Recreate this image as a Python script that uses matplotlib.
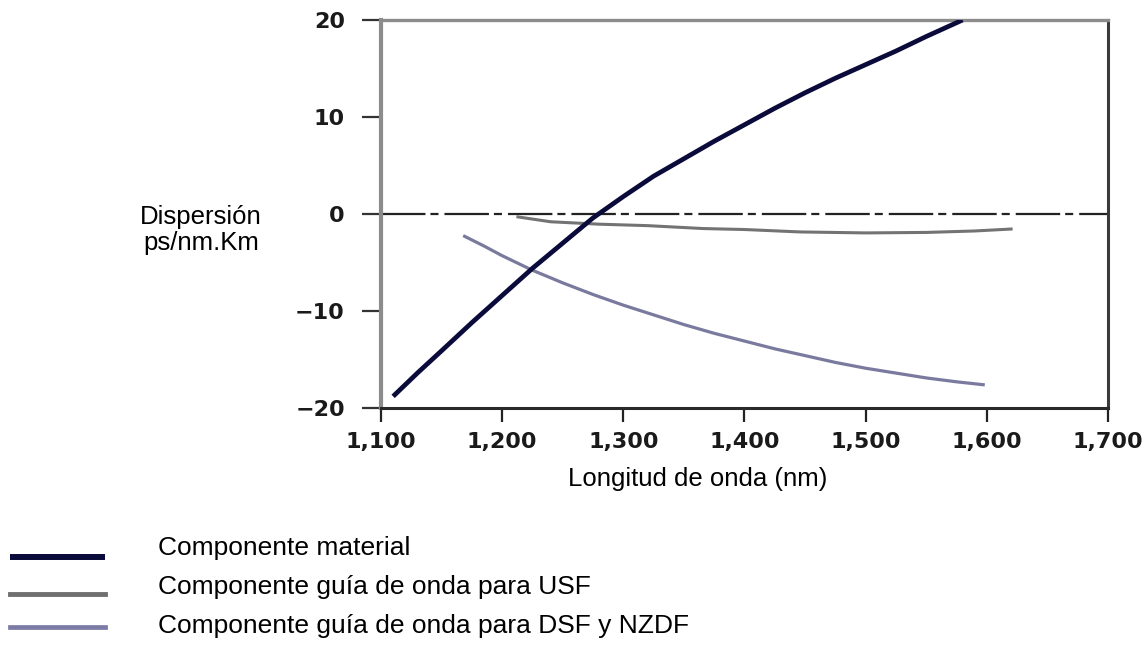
import matplotlib
matplotlib.use("Agg")
import matplotlib.pyplot as plt
import matplotlib.transforms as mtransforms

# ---- data ----
material_x = [1110, 1130, 1150, 1175, 1200, 1225, 1250, 1275, 1300, 1325, 1350,
              1375, 1400, 1425, 1450, 1475, 1500, 1525, 1550, 1580]
material_y = [-18.8, -16.4, -14.1, -11.2, -8.4, -5.6, -3.0, -0.4, 1.8, 3.9, 5.7,
              7.5, 9.2, 10.9, 12.5, 14.0, 15.4, 16.8, 18.3, 20.0]

usf_x = [1213, 1240, 1280, 1320, 1366, 1400, 1446, 1500, 1550, 1590, 1620]
usf_y = [-0.3, -0.8, -1.05, -1.2, -1.5, -1.6, -1.85, -1.95, -1.9, -1.75, -1.55]

dsf_x = [1169, 1185, 1200, 1225, 1250, 1275, 1300, 1325, 1350, 1375, 1400,
         1425, 1450, 1475, 1500, 1525, 1550, 1575, 1597]
dsf_y = [-2.3, -3.3, -4.3, -5.8, -7.1, -8.3, -9.4, -10.4, -11.4, -12.3, -13.1,
         -13.9, -14.6, -15.3, -15.9, -16.4, -16.9, -17.3, -17.6]

x_ticks = [1100, 1200, 1300, 1400, 1500, 1600, 1700]
x_ticklabels = ["1,100", "1,200", "1,300", "1,400", "1,500", "1,600", "1,700"]
y_ticks = [-20, -10, 0, 10, 20]
y_ticklabels = ["\u221220", "\u221210", "0", "10", "20"]

labels = ["Componente material",
          "Componente guía de onda para USF",
          "Componente guía de onda para DSF y NZDF"]

W, H = 1147, 659
plt.rcParams["lines.scale_dashes"] = False
fig = plt.figure(figsize=(W / 100, H / 100), dpi=100)
fig.patch.set_facecolor("white")
ax = fig.add_axes([381 / W, 1 - 408 / H, (1108 - 381) / W, (408 - 20) / H])

# zero reference line
ax.axhline(0, color="#222222", lw=1.6, dashes=(32, 3.6, 5.8, 4.3), zorder=1)

l1, = ax.plot(material_x, material_y, color="#0b0b3b", lw=3.4, solid_capstyle="butt",
              solid_joinstyle="round", zorder=4)
l2, = ax.plot(usf_x, usf_y, color="#737373", lw=2.2, solid_joinstyle="round", zorder=3)
l3, = ax.plot(dsf_x, dsf_y, color="#7a7a9e", lw=2.3, solid_joinstyle="round", zorder=3)

ax.set_xlim(1100, 1700)
ax.set_ylim(-20, 20)
ax.set_xticks(x_ticks)
ax.set_xticklabels(x_ticklabels)
ax.set_yticks(y_ticks)
ax.set_yticklabels(y_ticklabels)

for t in ax.get_xticklabels() + ax.get_yticklabels():
    t.set_fontfamily("DejaVu Sans")
    t.set_fontsize(16)
    t.set_fontweight("bold")
    t.set_color("#1a1a1a")

ax.tick_params(axis="x", direction="out", length=10, width=1.6, color="#222222", pad=7)
ax.tick_params(axis="y", direction="out", length=14, width=1.6, color="#333333", pad=12)

ax.spines["left"].set_color("#8c8c8c")
ax.spines["left"].set_linewidth(3.0)
ax.spines["top"].set_color("#8c8c8c")
ax.spines["top"].set_linewidth(2.4)
ax.spines["bottom"].set_color("#2a2a2a")
ax.spines["bottom"].set_linewidth(2.2)
ax.spines["right"].set_color("#3a3a3a")
ax.spines["right"].set_linewidth(2.2)

lab_font = dict(family=["Liberation Sans", "DejaVu Sans"], size=18.5, color="black")
fig.text(201 / W, 1 - 230 / H, "Dispersión\nps/nm.Km", ha="center", va="center",
         linespacing=1.15, **lab_font)
fig.text(698 / W, 1 - 479 / H, "Longitud de onda (nm)", ha="center", va="center", **lab_font)

leg = fig.legend([l1, l2, l3], labels, loc="upper left",
                 bbox_to_anchor=(10 / W, 1 - 536 / H), frameon=False,
                 prop={"family": ["Liberation Sans", "DejaVu Sans"], "size": 19},
                 handlelength=3.6, handletextpad=2.0, labelspacing=0.56,
                 borderpad=0, borderaxespad=0)
# legend swatches sit a little below the text line in the reference
for h, lw, c, dy in zip(leg.legend_handles, [4.3, 3.5, 3.4],
                        ["#0b0b3b", "#6f6f6f", "#7b7ba6"], [11, 9, 4]):
    h.set_linewidth(lw)
    h.set_color(c)
    h.set_transform(h.get_transform() +
                    mtransforms.ScaledTranslation(0, -dy / 100, fig.dpi_scale_trans))

fig.savefig("out.png", dpi=100, facecolor="white")
